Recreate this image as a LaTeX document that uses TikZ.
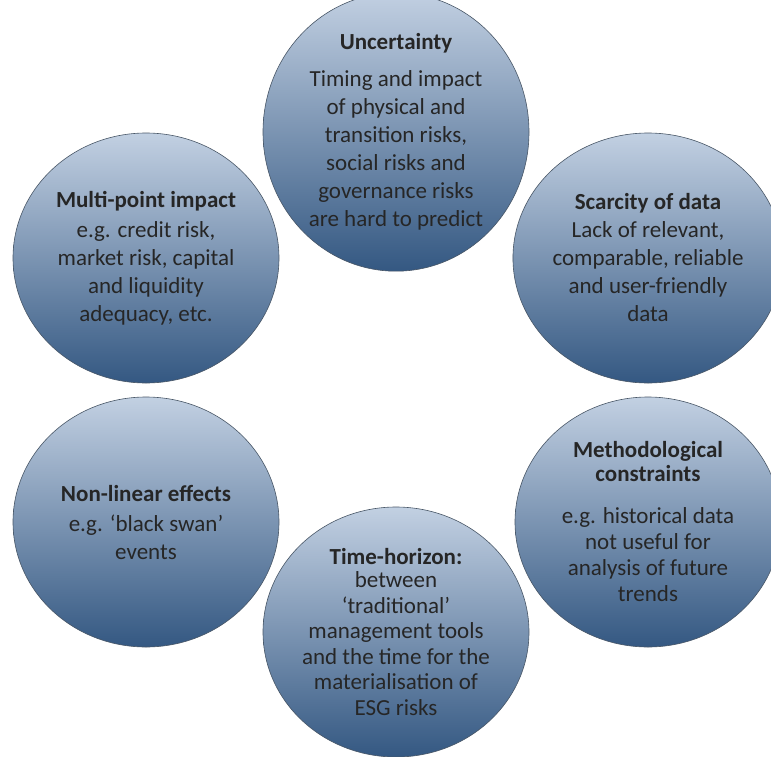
\documentclass[tikz,border=0pt]{standalone}
\usepackage{fontspec}
\setmainfont{Carlito}
\usepackage{tikz}
\usetikzlibrary{shapes.geometric}

\definecolor{bubbletop}{RGB}{194,208,226}
\definecolor{bubblemid}{RGB}{126,155,190}
\definecolor{bubblebot}{RGB}{52,88,130}
\definecolor{bubbleline}{RGB}{72,86,102}

\begin{document}
\begin{tikzpicture}
	[x=1pt, y=-1pt,
	bubble/.style={ellipse, draw=bubbleline, line width=0.6pt,
		minimum width=266pt, minimum height=250pt, inner sep=0pt,
		top color=bubbletop, middle color=bubblemid, bottom color=bubblebot,
		align=center, text=black!85, font=\fontsize{23}{28}\selectfont}]
	\useasboundingbox (0,0) rectangle (771,756);
	\node[bubble] (uncert) at (396,132)
		{\textbf{Uncertainty}\\[9pt]Timing and impact\\of physical and\\transition risks,\\social risks and\\governance risks\\are hard to predict};
	\node[bubble] (scarce) at (648,258)
		{\textbf{Scarcity of data}\\Lack of relevant,\\comparable, reliable\\and user-friendly\\data};
	\node[bubble] (method) at (648,522)
		{\textbf{Methodological}\\[-4pt]\textbf{constraints}\\[14pt]e.g. historical data\\[-2pt]not useful for\\[-2pt]analysis of future\\[-2pt]trends};
	\node[bubble, font=\fontsize{23}{25.5}\selectfont] (horizon) at (396,632)
		{\textbf{Time-horizon:}\\[-2pt]between\\‘traditional’\\management tools\\and the time for the\\materialisation of\\ESG risks};
	\node[bubble] (nonlin) at (146,522)
		{\textbf{Non-linear effects}\\[2pt]e.g. ‘black swan’\\events};
	\node[bubble] (multi) at (146,258)
		{\textbf{Multi-point impact}\\[2pt]e.g. credit risk,\\market risk, capital\\and liquidity\\adequacy, etc.};
\end{tikzpicture}
\end{document}
